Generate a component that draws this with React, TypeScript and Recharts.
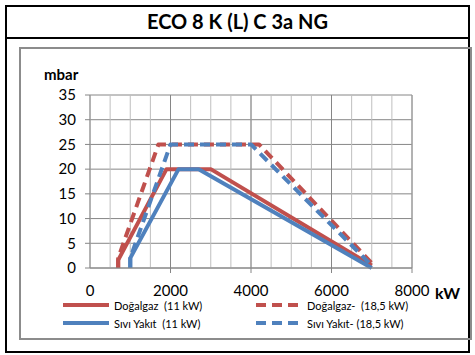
import React from "react";
import { CartesianGrid, Line, LineChart, ReferenceLine, XAxis, YAxis } from "recharts";

// kW / mbar curves
const gas11X = [700, 700, 1900, 3000, 7000];
const gas11Y = [0, 1.6, 20, 20, 0.5];
const gas185X = [700, 700, 1700, 4200, 7000];
const gas185Y = [0, 2, 25, 25, 1];
const oil11X = [1000, 1000, 2200, 2700, 7000];
const oil11Y = [0, 2, 20, 20, 0];
const oil185X = [1000, 1000, 2000, 4000, 7000];
const oil185Y = [0, 2, 25, 25, 0.5];

const xTicks = [0, 500, 1000, 1500, 2000, 2500, 3000, 3500, 4000, 4500, 5000, 5500, 6000, 6500, 7000, 7500, 8000];
const xMajor = [2000, 4000, 6000, 8000];
const yTicks = [0, 5, 10, 15, 20, 25, 30, 35];

const RED = "#c0504d";
const BLUE = "#4f81bd";
const GRID_DARK = "#868686";
const GRID_LIGHT = "#bfbfbf";
const FONT = "Lato, 'Open Sans', sans-serif";

const zip = (xs: number[], ys: number[]) => xs.map((x, i) => ({ x, y: ys[i] }));

const series = [
  { name: "Doğalgaz  (11 kW)", data: zip(gas11X, gas11Y), color: RED, dashed: false },
  { name: "Doğalgaz-  (18,5 kW)", data: zip(gas185X, gas185Y), color: RED, dashed: true },
  { name: "Sıvı Yakıt  (11 kW)", data: zip(oil11X, oil11Y), color: BLUE, dashed: false },
  { name: "Sıvı Yakıt- (18,5 kW)", data: zip(oil185X, oil185Y), color: BLUE, dashed: true },
];

function XTick({ x, y, payload }: { x?: number; y?: number; payload?: { value: number } }) {
  const v = payload?.value ?? 0;
  if (v % 2000 !== 0) return null;
  return (
    <g>
      {v !== 0 && <line x1={x} x2={x} y1={y} y2={(y ?? 0) + 5} stroke={GRID_DARK} />}
      <text x={x} y={(y ?? 0) + 28} textAnchor="middle" fontSize={15} fontFamily={FONT} fill="#000">
        {v}
      </text>
    </g>
  );
}

function LegendItem({ s }: { s: (typeof series)[number] }) {
  return (
    <div style={{ display: "flex", alignItems: "center", height: 18 }}>
      <svg width={50} height={8} style={{ marginRight: 3 }}>
        <line
          x1={2}
          x2={48}
          y1={4}
          y2={4}
          stroke={s.color}
          strokeWidth={4}
          strokeDasharray={s.dashed ? "10 6" : undefined}
        />
      </svg>
      <span style={{ whiteSpace: "pre" }}>{s.name}</span>
    </div>
  );
}

export default function App() {
  return (
    <div style={{ position: "absolute", left: 0, top: 0, width: 475, height: 355, background: "#fff", fontFamily: FONT }}>
      <div style={{ position: "absolute", left: 5, top: 5, width: 461, height: 33, border: "2px solid #000", borderBottom: "none" }} />
      <div style={{ position: "absolute", left: 5, top: 37, width: 461, height: 312, border: "2px solid #000" }} />
      <div style={{ position: "absolute", left: 19, top: 47, width: 449, height: 289, border: "2px solid #8c8c8c" }} />
      <div
        style={{
          position: "absolute",
          left: 5,
          top: 9,
          width: 465,
          textAlign: "center",
          fontWeight: 700,
          fontSize: 20,
          color: "#000",
        }}
      >
        ECO 8 K (L) C 3a NG
      </div>

      <div style={{ position: "absolute", left: 0, top: 0 }}>
        <LineChart width={475} height={355} margin={{ top: 95, right: 63, bottom: 57, left: 30 }}>
          <CartesianGrid vertical={false} stroke={GRID_DARK} />
          <CartesianGrid horizontal={false} stroke={GRID_LIGHT} />
          <XAxis
            dataKey="x"
            type="number"
            domain={[0, 8000]}
            ticks={xTicks}
            interval={0}
            tickLine={false}
            tickSize={0}
            tickMargin={0}
            height={30}
            axisLine={{ stroke: GRID_DARK }}
            tick={<XTick />}
          />
          <YAxis
            dataKey="y"
            type="number"
            domain={[0, 35]}
            ticks={yTicks}
            interval={0}
            width={60}
            tickSize={5}
            tickMargin={9}
            tickLine={{ stroke: GRID_DARK }}
            axisLine={{ stroke: GRID_DARK }}
            tick={{ fontSize: 15, fontFamily: FONT, fill: "#000" }}
          />
          {xMajor.map((v) => (
            <ReferenceLine key={v} x={v} stroke={GRID_DARK} />
          ))}
          {series.map((s) => (
            <Line
              key={s.name}
              data={s.data}
              dataKey="y"
              type="linear"
              stroke={s.color}
              strokeWidth={4}
              strokeDasharray={s.dashed ? "10 6" : undefined}
              strokeLinejoin="round"
              dot={false}
              isAnimationActive={false}
            />
          ))}
        </LineChart>
      </div>

      <div style={{ position: "absolute", left: 44, top: 65, fontWeight: 700, fontSize: 15 }}>mbar</div>
      <div style={{ position: "absolute", left: 435, top: 283, fontWeight: 700, fontSize: 16 }}>kW</div>

      <div style={{ position: "absolute", left: 61, top: 296, fontSize: 11, color: "#000" }}>
        <LegendItem s={series[0]} />
        <LegendItem s={series[2]} />
      </div>
      <div style={{ position: "absolute", left: 254, top: 296, fontSize: 11, color: "#000" }}>
        <LegendItem s={series[1]} />
        <LegendItem s={series[3]} />
      </div>
    </div>
  );
}
